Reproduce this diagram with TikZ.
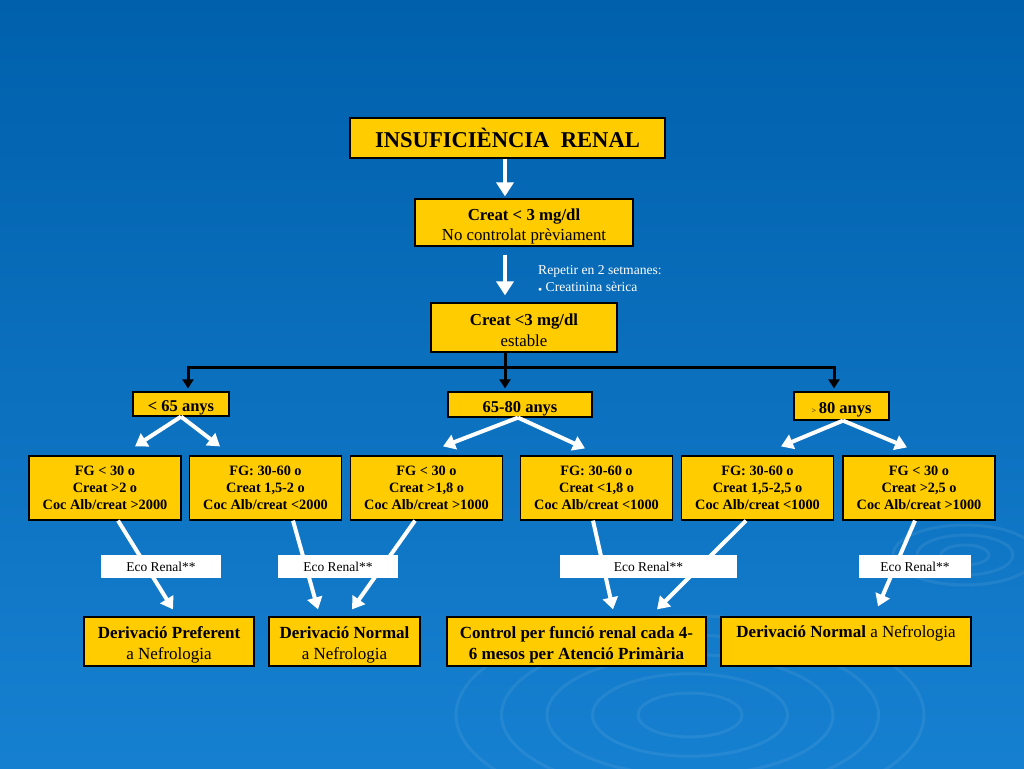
\documentclass[tikz,border=0pt]{standalone}
\usepackage{fontspec}
\setmainfont{Liberation Serif}
\usetikzlibrary{arrows.meta,calc}
\definecolor{yellowc}{RGB}{255,204,0}
\definecolor{bgtop}{RGB}{0,96,172}
\definecolor{bgbot}{RGB}{22,128,208}
\newcommand{\up}{\rule{0pt}{19pt}}
\begin{document}
\begin{tikzpicture}[x=1pt,y=-1pt,
 ybox/.style={draw=black, line width=1.2pt, fill=yellowc, inner sep=0pt, align=center, text=black},
 mid/.style={ybox, minimum width=152pt, minimum height=64pt, font=\bfseries\fontsize{14.3}{17}\selectfont},
 age/.style={ybox, text height=15pt, text depth=0pt, font=\bfseries\fontsize{16.5}{16.5}\selectfont},
 fin/.style={ybox, minimum height=49pt, font=\fontsize{17}{21}\selectfont},
 wbox/.style={fill=white, inner sep=0pt, minimum height=23pt, font=\fontsize{13.5}{13.5}\selectfont},
 warrow/.style={draw=white, line width=4.5pt, -{Triangle[width=17pt,length=14pt]}},
 darrow/.style={draw=white, line width=4pt, -{Triangle[width=15pt,length=12pt]}},
 barrow/.style={draw=black, line width=3pt, -{Triangle[width=11pt,length=9pt]}},
 ripple/.style={draw=white, opacity=0.07, line width=3pt},
]
\useasboundingbox (0,0) rectangle (1024,768);
\shade[top color=bgtop, bottom color=bgbot] (0,0) rectangle (1024,768);
% ripples
\foreach \r in {40,75,110,145,180}{\draw[ripple] (690,715) ellipse ({\r*1.3} and {\r*0.55});}
\foreach \r in {20,40,60}{\draw[ripple] (965,555) ellipse ({\r*1.2} and {\r*0.5});}

% nodes
\node[ybox, minimum width=315pt, minimum height=40pt, font=\bfseries\fontsize{22.6}{22.6}\selectfont] (title) at (507.5,138) {INSUFICIÈNCIA\ \ RENAL};
\node[ybox, minimum width=218pt, minimum height=47pt, font=\fontsize{16.8}{20}\selectfont] (c1) at (524,222.5) {\rule{0pt}{20pt}\textbf{Creat < 3 mg/dl}\\No controlat prèviament};
\node[anchor=north west, inner sep=0pt, text=white, align=left, font=\fontsize{13.6}{17}\selectfont] (note) at (538,265) {Repetir en 2 setmanes:\\{\fontsize{7}{7}\selectfont$\bullet$} Creatinina sèrica};
\node[ybox, minimum width=186pt, minimum height=49pt, font=\fontsize{16.8}{21}\selectfont] (c2) at (524,327.5) {\rule{0pt}{18pt}\textbf{Creat <3 mg/dl}\\estable};

\node[age, minimum width=96pt, minimum height=24pt] (a1) at (181,404) {< 65 anys};
\node[age, minimum width=144pt, minimum height=25pt] (a2) at (520,404.5) {65-80 anys};
\node[age, minimum width=95pt, minimum height=28pt] (a3) at (841.5,406) {{\mdseries\fontsize{8}{8}\selectfont >}\,80 anys};

\node[mid] (b1) at (105,488) {FG < 30 o\\Creat >2 o\\Coc Alb/creat >2000};
\node[mid] (b2) at (265.5,488) {FG: 30-60 o\\Creat 1,5-2 o\\Coc Alb/creat <2000};
\node[mid] (b3) at (426.5,488) {FG < 30 o\\Creat >1,8 o\\Coc Alb/creat >1000};
\node[mid] (b4) at (596.5,488) {FG: 30-60 o\\Creat <1,8 o\\Coc Alb/creat <1000};
\node[mid] (b5) at (757.5,488) {FG: 30-60 o\\Creat 1,5-2,5 o\\Coc Alb/creat <1000};
\node[mid] (b6) at (919,488) {FG < 30 o\\Creat >2,5 o\\Coc Alb/creat >1000};

\node[fin, minimum width=170pt] (f1) at (169,641.5) {\up\textbf{Derivació Preferent}\\a Nefrologia};
\node[fin, minimum width=151pt] (f2) at (344.5,641.5) {\up\textbf{Derivació Normal}\\a Nefrologia};
\node[fin, minimum width=259pt, font=\bfseries\fontsize{17}{21}\selectfont] (f3) at (576.5,641.5) {\up Control per funció renal cada 4-\\6 mesos per Atenció Primària};
\node[fin, minimum width=250pt] (f4) at (846,641.5) {\up\textbf{Derivació Normal} a Nefrologia\\\strut};

% white vertical arrows
\draw[warrow] ($(title.south)+(-2.5,0)$) -- ($(c1.north)+(-19,-2)$);
\draw[warrow] ($(c1.south)+(-19,8)$) -- ($(c2.north)+(-19,-7)$);

% black distribution
\draw[draw=black, line width=3pt] ($(c2.south)+(-19,0)$) -- ($(c2.south)+(-19,16)$) coordinate (j);
\draw[draw=black, line width=3pt, line cap=rect] ($(a1.north)+(7,-24)$) -- ($(a3.north)+(-7.5,-24)$);
\draw[barrow] ($(a1.north)+(7,-24)$) -- ($(a1.north)+(7,-3)$);
\draw[barrow] (j) -- ($(a2.north)+(-15,-3)$);
\draw[barrow] ($(a3.north)+(-7.5,-24)$) -- ($(a3.north)+(-7.5,-3)$);

% age splits
\draw[darrow] (a1.south) -- ($(b1.north)+(30,-9)$);
\draw[darrow] (a1.south) -- ($(b2.north)+(-45.5,-9)$);
\draw[darrow] ($(a2.south)+(-2,0)$) -- ($(b3.north)+(16.5,-9)$);
\draw[darrow] ($(a2.south)+(-2,0)$) -- ($(b4.north)+(-11.5,-7)$);
\draw[darrow] ($(a3.south)+(1.5,0)$) -- ($(b5.north)+(23.5,-9)$);
\draw[darrow] ($(a3.south)+(1.5,0)$) -- ($(b6.north)+(-12,-8)$);

% lower arrows
\draw[darrow] ($(b1.south)+(13,0)$) -- ($(f1.north)+(4,-7)$);
\draw[darrow] ($(b2.south)+(27.5,0)$) -- ($(f2.north)+(-26.5,-7)$);
\draw[darrow] ($(b3.south)+(-11.5,0)$) -- ($(f2.north)+(7.5,-7)$);
\draw[darrow] ($(b4.south)+(-3.5,0)$) -- ($(f3.north)+(36.5,-7)$);
\draw[darrow] ($(b5.south)+(-11.5,0)$) -- ($(f3.north)+(80.5,-7)$);
\draw[darrow] ($(b6.south)+(-4,0)$) -- ($(f4.north)+(32,-10)$);

% eco boxes on top
\node[wbox, minimum width=120pt] (e1) at (161,566.5) {Eco Renal**};
\node[wbox, minimum width=120pt] (e2) at (338,566.5) {Eco Renal**};
\node[wbox, minimum width=177pt] (e3) at (648.5,566.5) {Eco Renal**};
\node[wbox, minimum width=112pt] (e4) at (915,566.5) {Eco Renal**};
\end{tikzpicture}
\end{document}
